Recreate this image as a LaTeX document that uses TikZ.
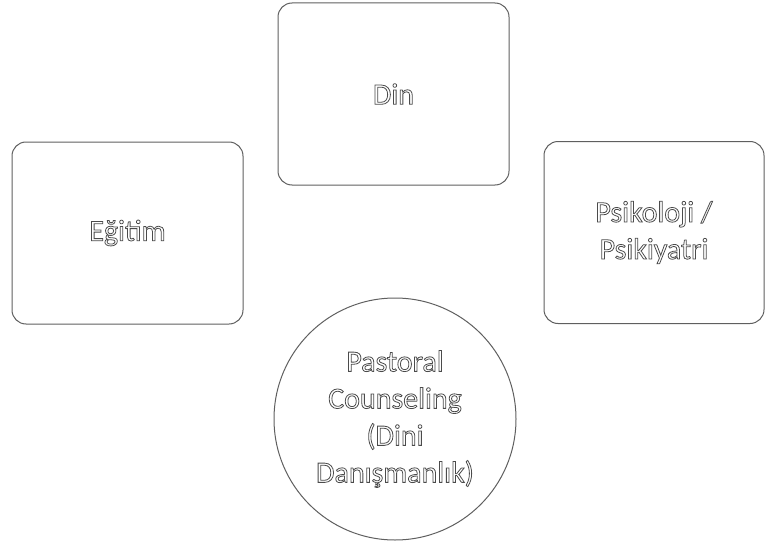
\documentclass[tikz,border=0pt]{standalone}
\usepackage{fontspec}
\setmainfont{Carlito}
\definecolor{framegray}{RGB}{95,95,95}
\definecolor{textgray}{RGB}{75,75,75}
\newcommand{\hollow}[1]{\special{pdf:literal direct 1 Tr 0.8 w}#1\special{pdf:literal direct 0 Tr}}
\tikzstyle{b} = [draw=framegray, line width=1pt, rounded corners=14pt, align=center, text=textgray, font=\fontsize{30}{37}\selectfont]

\begin{document}
\begin{tikzpicture}[x=1pt,y=-1pt,
			box/.style={b, minimum width=231pt, minimum height=182pt},
			round/.style={b, circle, minimum size=242pt, inner sep=0pt}]
			\useasboundingbox (0,0) rectangle (766,543);
			\node (din) [box] at (393.5,94) {\hollow{Din}};
			\node (egitim) [box] at (127.5,233) {\hollow{Eğitim}};
			\node (psiko) [box, minimum width=220pt] at (654,232.5) {\hollow{Psikoloji /}\\\hollow{Psikiyatri}};
			\node (pastoral) [round] at (395,419) {\hollow{Pastoral}\\\hollow{Counseling}\\\hollow{(Dini}\\\hollow{Danışmanlık)}};
		\end{tikzpicture}
\end{document}
